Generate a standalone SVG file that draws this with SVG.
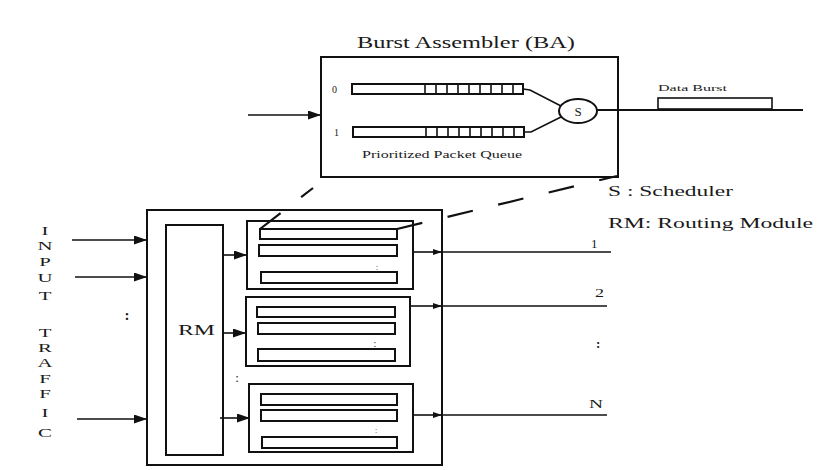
<svg xmlns="http://www.w3.org/2000/svg" width="819" height="470" viewBox="0 0 819 470">
<style>
  .box { fill: none; stroke: #111; stroke-width: 2; }
  .bar { fill: #fff; stroke: #111; stroke-width: 2; }
  .ln { fill: none; stroke: #111; stroke-width: 1.6; }
  .cell { stroke: #111; stroke-width: 1.6; }
  .dash { fill: none; stroke: #111; stroke-width: 2.2; stroke-dasharray: 26 26; }
  .t { font-family: "Liberation Serif", "Times New Roman", serif; fill: #1a1a1a; }
</style>
<defs>
  <marker id="arr" markerUnits="userSpaceOnUse" markerWidth="13" markerHeight="9" refX="13" refY="4.5" orient="auto">
    <path d="M0,0 L13,4.5 L0,9 z" fill="#111"/>
  </marker>
  <marker id="arrs" markerUnits="userSpaceOnUse" markerWidth="9" markerHeight="6" refX="9" refY="3" orient="auto">
    <path d="M0,0 L9,3 L0,6 z" fill="#111"/>
  </marker>
</defs>

<!-- Burst Assembler -->
<g id="burst-assembler">
  <text class="t" x="357" y="48" font-size="16" textLength="218" lengthAdjust="spacingAndGlyphs">Burst Assembler (BA)</text>
  <rect class="box" x="321" y="57" width="297" height="120"/>
  <text class="t" x="332" y="93" font-size="10">0</text>
  <text class="t" x="334" y="136" font-size="10">1</text>
  <g id="queue-0">
    <rect class="bar" x="352" y="84" width="171" height="10"/>
    <path class="cell" d="M425,84V94 M436,84V94 M447,84V94 M458,84V94 M469,84V94 M480,84V94 M491,84V94 M502,84V94 M513,84V94"/>
  </g>
  <g id="queue-1">
    <rect class="bar" x="353" y="127" width="171" height="10"/>
    <path class="cell" d="M426,127V137 M437,127V137 M448,127V137 M459,127V137 M470,127V137 M481,127V137 M492,127V137 M503,127V137 M514,127V137"/>
  </g>
  <text class="t" x="362" y="158" font-size="10.5" textLength="160" lengthAdjust="spacingAndGlyphs">Prioritized Packet Queue</text>
  <g id="scheduler">
    <ellipse class="box" cx="578" cy="111" rx="19" ry="12"/>
    <text class="t" x="578" y="116" font-size="13" text-anchor="middle">S</text>
  </g>
</g>

<g id="data-burst">
  <rect x="658" y="98" width="114" height="11" fill="#fff" stroke="#111" stroke-width="1.6"/>
  <text class="t" x="658" y="91" font-size="9" textLength="69" lengthAdjust="spacingAndGlyphs">Data Burst</text>
</g>

<g id="legend">
  <text class="t" x="608" y="196" font-size="15" textLength="125" lengthAdjust="spacingAndGlyphs">S : Scheduler</text>
  <text class="t" x="608" y="228" font-size="15" textLength="205" lengthAdjust="spacingAndGlyphs">RM: Routing Module</text>
</g>

<!-- Input traffic label -->
<g id="input-traffic" class="t" font-size="13" text-anchor="middle">
  <g transform="translate(45,0) scale(1.6,1)">
    <text x="0" y="235">I</text>
    <text x="0" y="250">N</text>
    <text x="0" y="266">P</text>
    <text x="0" y="282">U</text>
    <text x="0" y="300">T</text>
    <text x="0" y="337">T</text>
    <text x="0" y="352">R</text>
    <text x="0" y="367">A</text>
    <text x="0" y="383">F</text>
    <text x="0" y="398">F</text>
    <text x="0" y="417">I</text>
    <text x="0" y="437">C</text>
  </g>
</g>
<text class="t" x="127" y="320" font-size="15" text-anchor="middle" font-weight="bold">:</text>

<!-- Core node -->
<g id="core-node">
  <rect class="box" x="147" y="210" width="295" height="255"/>
</g>
<g id="routing-module">
  <rect class="box" x="166" y="225" width="57" height="230"/>
  <text class="t" x="178" y="335" font-size="15" textLength="37" lengthAdjust="spacingAndGlyphs">RM</text>
</g>

<g id="block-1">
  <rect class="box" x="247" y="221" width="166" height="68"/>
  <rect class="bar" x="260" y="229" width="137" height="10"/>
  <rect class="bar" x="259" y="245" width="138" height="11"/>
  <rect class="bar" x="261" y="272" width="136" height="11"/>
  <text class="t" x="377" y="270" font-size="9" text-anchor="middle">:</text>
</g>
<g id="block-2">
  <rect class="box" x="246" y="297" width="164" height="69"/>
  <rect class="bar" x="257" y="307" width="138" height="10"/>
  <rect class="bar" x="258" y="323" width="137" height="11"/>
  <rect class="bar" x="258" y="349" width="137" height="12"/>
  <text class="t" x="375" y="347" font-size="10" text-anchor="middle">:</text>
</g>
<text class="t" x="237" y="382" font-size="13" text-anchor="middle">:</text>
<g id="block-3">
  <rect class="box" x="249" y="384" width="164" height="68"/>
  <rect class="bar" x="261" y="394" width="136" height="11"/>
  <rect class="bar" x="261" y="410" width="136" height="11"/>
  <rect class="bar" x="262" y="437" width="135" height="11"/>
  <text class="t" x="376" y="433" font-size="8" text-anchor="middle" fill="#777">:</text>
</g>

<!-- Output labels -->
<g id="output-labels" class="t" font-size="13">
  <text x="591" y="248">1</text>
  <text x="595" y="297" textLength="9" lengthAdjust="spacingAndGlyphs">2</text>
  <text x="596" y="348" font-weight="bold">:</text>
  <text x="589" y="408" textLength="14" lengthAdjust="spacingAndGlyphs">N</text>
</g>

<!-- Connectors -->
<g id="connectors">
  <line class="ln" x1="248" y1="115" x2="321" y2="115" marker-end="url(#arr)"/>
  <polyline class="ln" points="523,89 530,90 561,106"/>
  <polyline class="ln" points="524,132 531,132 561,117"/>
  <line x1="597" y1="110" x2="803" y2="110" stroke="#111" stroke-width="2"/>

  <line class="ln" x1="72" y1="240" x2="147" y2="240" marker-end="url(#arr)"/>
  <line class="ln" x1="75" y1="277" x2="147" y2="277" marker-end="url(#arr)"/>
  <line class="ln" x1="77" y1="419" x2="147" y2="419" marker-end="url(#arr)"/>

  <line class="ln" x1="223" y1="255" x2="247" y2="255" marker-end="url(#arr)"/>
  <line class="ln" x1="223" y1="333" x2="246" y2="333" marker-end="url(#arr)"/>
  <line class="ln" x1="220" y1="418" x2="250" y2="418" marker-end="url(#arr)"/>

  <line class="ln" x1="413" y1="252" x2="442" y2="252" marker-end="url(#arrs)"/>
  <line class="ln" x1="442" y1="252" x2="611" y2="252"/>
  <line class="ln" x1="410" y1="306" x2="442" y2="306" marker-end="url(#arrs)"/>
  <line class="ln" x1="442" y1="306" x2="607" y2="306"/>
  <line class="ln" x1="413" y1="415" x2="442" y2="415" marker-end="url(#arrs)"/>
  <line class="ln" x1="442" y1="415" x2="607" y2="415"/>

  <line class="dash" x1="260" y1="229" x2="313" y2="188" stroke-dasharray="22 22"/>
  <line class="dash" x1="397" y1="229" x2="617" y2="176"/>
</g>
</svg>
